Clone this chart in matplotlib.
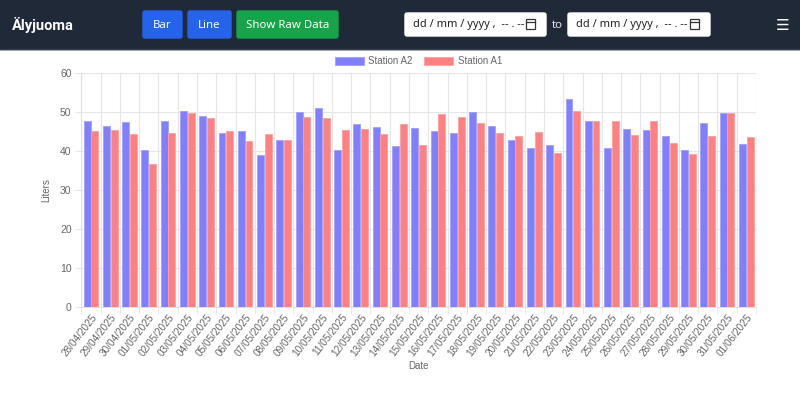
import matplotlib
matplotlib.use("Agg")
import matplotlib.pyplot as plt
from matplotlib.patches import Rectangle, FancyBboxPatch
import numpy as np

dates = [
    "28/04/2025", "29/04/2025", "30/04/2025", "01/05/2025", "02/05/2025",
    "03/05/2025", "04/05/2025", "05/05/2025", "06/05/2025", "07/05/2025",
    "08/05/2025", "09/05/2025", "10/05/2025", "11/05/2025", "12/05/2025",
    "13/05/2025", "14/05/2025", "15/05/2025", "16/05/2025", "17/05/2025",
    "18/05/2025", "19/05/2025", "20/05/2025", "21/05/2025", "22/05/2025",
    "23/05/2025", "24/05/2025", "25/05/2025", "26/05/2025", "27/05/2025",
    "28/05/2025", "29/05/2025", "30/05/2025", "31/05/2025", "01/06/2025",
]
station_a2 = [
    47.7, 46.4, 47.6, 40.2, 47.8, 50.4, 48.9, 44.7, 45.2, 39.1,
    42.8, 50.0, 51.2, 40.2, 47.0, 46.3, 41.3, 45.9, 45.2, 44.6,
    50.0, 46.4, 42.9, 40.9, 41.6, 53.3, 47.7, 40.7, 45.8, 45.3,
    43.9, 40.3, 47.3, 49.7, 41.8,
]
station_a1 = [
    45.2, 45.4, 44.4, 36.6, 44.6, 49.7, 48.4, 45.2, 42.6, 44.4,
    42.8, 48.8, 48.4, 45.4, 45.6, 44.3, 46.9, 41.6, 49.5, 48.7,
    47.1, 44.6, 43.8, 45.0, 39.6, 50.2, 47.7, 47.8, 44.1, 47.7,
    42.1, 39.2, 44.0, 49.8, 43.5,
]
series_names = ["Station A2", "Station A1"]

W, H = 800, 393
fig = plt.figure(figsize=(W / 100, H / 100), dpi=100)
fig.patch.set_facecolor("white")

# header bar, drawn in pixel coords
HDR = 51
hdr = fig.add_axes([0, 1 - HDR / H, 1, HDR / H])
hdr.set_xlim(0, W)
hdr.set_ylim(HDR, 0)
hdr.axis("off")
hdr.add_patch(Rectangle((0, 0), W, HDR, color="#1f2937"))
hdr.add_patch(Rectangle((0, HDR - 1.5), W, 1.5, color="#9ca3af"))
hdr.text(12, 25, "Älyjuoma", color="white", fontsize=10.5, fontweight="bold",
         family="Roboto", va="center", ha="left")

buttons = [("Bar", 143, 182, "#2563eb"), ("Line", 188, 231, "#2563eb"),
           ("Show Raw Data", 237, 338, "#16a34a")]
for label, x0, x1, col in buttons:
    hdr.add_patch(FancyBboxPatch((x0 + 2, 13), x1 - x0 - 4, 23,
                                 boxstyle="round,pad=2", color=col))
    hdr.text((x0 + x1) / 2, 25, label, color="white", fontsize=8.2,
             family="Noto Sans", ha="center", va="center")

for x0, x1 in [(405, 546), (568, 710)]:
    hdr.add_patch(FancyBboxPatch((x0 + 2, 15), x1 - x0 - 4, 19,
                                 boxstyle="round,pad=2", color="white"))
    hdr.text(x0 + 8, 25, "dd / mm / yyyy ,  -- . --", color="#222222",
             fontsize=8, family="Noto Sans", ha="left", va="center")
    hdr.add_patch(Rectangle((x1 - 20, 19), 9, 10, fill=False,
                            edgecolor="#333333", lw=0.9))
    hdr.plot([x1 - 20, x1 - 11], [21.5, 21.5], color="#333333", lw=0.9)
hdr.text(557, 25, "to", color="#e5e7eb", fontsize=8.2, family="Noto Sans",
         ha="center", va="center")
hdr.text(783, 25, "☰", color="white", fontsize=11, family="DejaVu Sans",
         ha="center", va="center")

# chart
left, right = 81.3, 756
bottom, top = 306.7, 73.3
ax = fig.add_axes([left / W, 1 - bottom / H, (right - left) / W, (bottom - top) / H])

x = np.arange(len(dates))
bw = 0.8 / 2 * 0.9
ax.bar(x - 0.2, station_a2, width=bw, color="#8080ff",
       edgecolor="#a0a0ff", linewidth=0.6, label=series_names[0], zorder=3)
ax.bar(x + 0.2, station_a1, width=bw, color="#ff8080",
       edgecolor="#ffa0a0", linewidth=0.6, label=series_names[1], zorder=3)

ax.set_xlim(-0.5, len(dates) - 0.5)
ax.set_ylim(0, 60)
ax.set_yticks(range(0, 61, 10))
ax.set_xticks(x)
ax.set_xticklabels(dates, rotation=52, ha="right", rotation_mode="anchor",
                   fontsize=7.2, color="#666666", family="Liberation Sans")
for lab in ax.get_yticklabels():
    lab.set_fontsize(7.5)
    lab.set_color("#666666")
    lab.set_family("Liberation Sans")

ax.set_xticks(np.arange(-0.5, len(dates)), minor=True)
ax.grid(True, which="minor", axis="x", color="#e6e6e6", lw=0.8, zorder=0)
ax.grid(True, which="major", axis="y", color="#e6e6e6", lw=0.8, zorder=0)
ax.tick_params(axis="x", which="major", length=0, pad=4)
ax.tick_params(axis="x", which="minor", length=5, color="#e6e6e6")
ax.tick_params(axis="y", length=4, color="#e6e6e6", pad=3)
for side in ["top", "right"]:
    ax.spines[side].set_visible(False)
for side in ["left", "bottom"]:
    ax.spines[side].set_color("#e0e0e0")
    ax.spines[side].set_linewidth(0.8)

ax.set_ylabel("Liters", fontsize=7, color="#666666", family="Liberation Sans",
              labelpad=6)
ax.set_xlabel("Date", fontsize=7, color="#666666", family="Liberation Sans",
              labelpad=2)

leg = ax.legend(loc="lower center", bbox_to_anchor=(0.5, 1.0), ncol=2,
                frameon=False, fontsize=7, handlelength=2.9, handleheight=0.9,
                columnspacing=1.2, handletextpad=0.5, borderaxespad=0.3)
for t in leg.get_texts():
    t.set_color("#666666")
    t.set_family("Liberation Sans")

fig.savefig("out.png", dpi=100)
